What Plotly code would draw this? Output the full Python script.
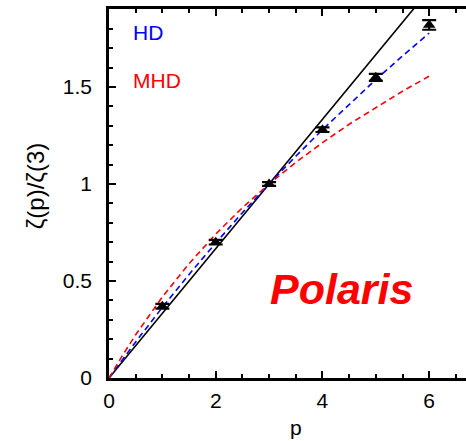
import plotly.graph_objects as go

# data points (Polaris)
p_obs = [1, 2, 3, 4, 5, 6]
zeta_obs = [0.37, 0.70, 1.00, 1.28, 1.55, 1.82]
zeta_err = [0.012, 0.012, 0.010, 0.012, 0.018, 0.025]

# model curves
p_model = [0, 0.1, 0.25, 0.5, 1, 1.5, 2, 2.5, 3, 3.5, 4, 4.5, 5, 5.5, 6]
hd_model = [0, 0.038, 0.094, 0.186, 0.364, 0.534, 0.696, 0.852, 1.0, 1.143, 1.280, 1.411, 1.538, 1.660, 1.778]
mhd_model = [0, 0.047, 0.115, 0.223, 0.418, 0.589, 0.742, 0.878, 1.0, 1.111, 1.213, 1.308, 1.395, 1.478, 1.556]

# K41 line
p_k41 = [0, 6]
k41 = [0, 2]

FONT = "Liberation Sans, Arial, DejaVu Sans, sans-serif"

fig = go.Figure()
fig.add_trace(go.Scatter(x=p_k41, y=k41, mode="lines",
                         line=dict(color="black", width=1.6), showlegend=False))
fig.add_trace(go.Scatter(x=p_model, y=hd_model, mode="lines",
                         line=dict(color="#0000ff", width=1.6, dash="6px,4px"), showlegend=False))
fig.add_trace(go.Scatter(x=p_model, y=mhd_model, mode="lines",
                         line=dict(color="#ff0000", width=1.6, dash="6px,4px"), showlegend=False))
fig.add_trace(go.Scatter(x=p_obs, y=zeta_obs, mode="markers",
                         marker=dict(symbol="triangle-up", size=11, color="black"),
                         error_y=dict(type="data", array=zeta_err, visible=True,
                                      color="black", thickness=2.2, width=7),
                         showlegend=False))

fig.update_layout(
    width=466, height=441,
    margin=dict(l=109, r=0, t=9, b=63),
    paper_bgcolor="white", plot_bgcolor="white",
    font=dict(family=FONT, size=21, color="black"),
    xaxis=dict(range=[0, 6.69], tickvals=[0, 2, 4, 6], ticktext=["0", "2", "4", "6"],
               ticks="inside", ticklen=7, tickwidth=1.5, tickcolor="black",
               minor=dict(tick0=0, dtick=0.5, ticks="inside", ticklen=4, tickwidth=1.5, tickcolor="black"),
               showline=True, linewidth=2.5, linecolor="black", mirror="ticks",
               showgrid=False, zeroline=False, ticklabelstandoff=2),
    yaxis=dict(range=[0, 1.902], tickvals=[0, 0.5, 1, 1.5], ticktext=["0", "0.5", "1", "1.5"],
               ticks="inside", ticklen=7, tickwidth=1.5, tickcolor="black",
               minor=dict(tick0=0, dtick=0.1, ticks="inside", ticklen=4, tickwidth=1.5, tickcolor="black"),
               showline=True, linewidth=2.5, linecolor="black", mirror=False,
               showgrid=False, zeroline=False, ticklabelstandoff=10),
)

fig.add_annotation(text="p", xref="paper", yref="paper", x=0.524, y=-0.135,
                   showarrow=False, font=dict(size=21), xanchor="center", yanchor="middle")
fig.add_annotation(text="ζ(p)/ζ(3)", xref="paper", yref="paper", x=-0.207, y=0.52,
                   textangle=-90, showarrow=False, font=dict(size=24),
                   xanchor="center", yanchor="middle")
fig.add_annotation(text="HD", xref="paper", yref="paper", x=0.061, y=0.935,
                   showarrow=False, font=dict(size=21, color="#0000ff"),
                   xanchor="left", yanchor="middle")
fig.add_annotation(text="MHD", xref="paper", yref="paper", x=0.061, y=0.805,
                   showarrow=False, font=dict(size=21, color="#ff0000"),
                   xanchor="left", yanchor="middle")
fig.add_annotation(text="<b><i>Polaris</i></b>", xref="paper", yref="paper", x=0.652, y=0.241,
                   showarrow=False, font=dict(size=43, color="#ff0000"),
                   xanchor="center", yanchor="middle")

fig.write_html("out.html")
